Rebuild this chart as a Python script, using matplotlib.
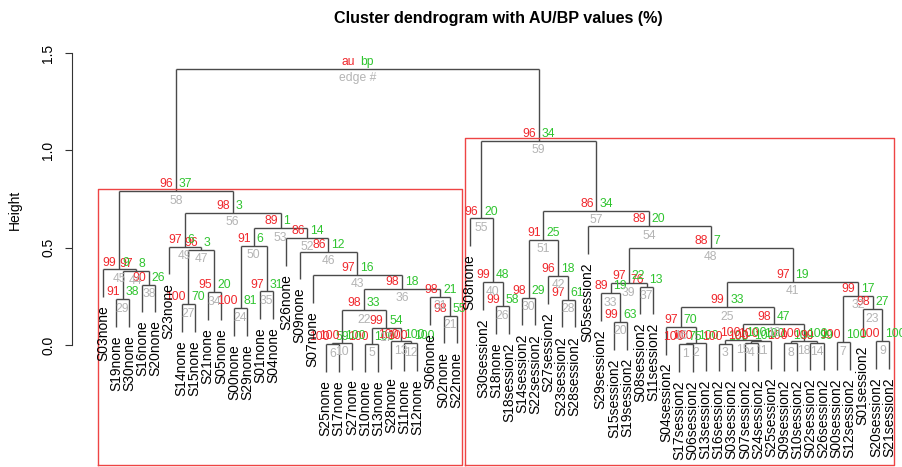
import matplotlib
matplotlib.use("Agg")
import matplotlib.pyplot as plt

plt.rcParams['font.family'] = ['Liberation Sans', 'DejaVu Sans']

# ---------------- data ----------------
leaf_labels = [
    "S03none", "S19none", "S30none", "S16none", "S20none", "S23none", "S14none", "S15none",
    "S21none", "S05none", "S00none", "S29none", "S01none", "S04none", "S26none", "S09none",
    "S07none", "S25none", "S17none", "S27none", "S10none", "S13none", "S28none", "S11none",
    "S12none", "S06none", "S02none", "S22none", "S08none", "S30session2", "S18none",
    "S18session2", "S14session2", "S22session2", "S27session2", "S23session2", "S28session2",
    "S05session2", "S29session2", "S15session2", "S19session2", "S08session2", "S11session2",
    "S04session2", "S17session2", "S06session2", "S13session2", "S16session2", "S03session2",
    "S07session2", "S24session2", "S25session2", "S09session2", "S10session2", "S02session2",
    "S26session2", "S00session2", "S12session2", "S01session2", "S20session2", "S21session2",
]

# merges in edge order (edge # = position + 1); a child is a leaf name or an earlier edge #
merge_a = ["S17session2", 1, "S16session2", "S07session2", "S10none", "S25none",
           "S00session2", "S09session2", "S20session2", 6, 4, "S11none", "S28none",
           "S02session2", 3, "S04session2", 5, 8, 15, "S15session2", "S02none", 10,
           "S01session2", "S00none", 16, "S18none", "S14none", "S23session2", "S19none",
           "S14session2", "S06none", 7, "S29session2", "S21none", "S01none", 22,
           "S08session2", "S16none", 33, "S30session2", 25, "S27session2", "S07none", 29,
           "S03none", "S09none", 27, 39, "S23none", 24, 30, "S26none", 50, "S05session2",
           "S08none", 49, 51, 45, 55, 58]
merge_b = ["S06session2", "S13session2", "S03session2", "S24session2", "S13none", "S17none",
           "S12session2", "S10session2", "S21session2", "S27none", "S25session2", "S12none", 12,
           "S26session2", 11, 2, 13, 14, 18, "S19session2", "S22none", 17,
           9, "S29none", 19, "S18session2", "S15none", "S28session2", "S30none",
           "S22session2", 21, 23, 20, "S05none", "S04none", 31,
           "S11session2", "S20none", 37, 26, 32, 28, 36, 38,
           44, 43, 34, 41, 47, 35, 42, 46, 52, 48,
           40, 53, 54, 56, 57, 59]
heights = [0.003, 0.008, 0.006, 0.010, 0.005, 0.004, 0.015, 0.010, 0.020, 0.012,
           0.020, 0.008, 0.018, 0.012, 0.025, 0.093, 0.087, 0.020, 0.108, 0.118,
           0.150, 0.178, 0.183, 0.188, 0.193, 0.198, 0.210, 0.232, 0.236, 0.243,
           0.247, 0.252, 0.265, 0.270, 0.275, 0.290, 0.300, 0.310, 0.318, 0.322,
           0.326, 0.355, 0.360, 0.378, 0.388, 0.480, 0.490, 0.500, 0.505, 0.510,
           0.540, 0.550, 0.600, 0.610, 0.650, 0.680, 0.690, 0.790, 1.050, 1.420]
au_values = [100, 100, 100, 100, 100, 100, 100, 100, 100, 100,
             100, 100, 100, 99, 100, 97, 99, 100, 98, 99,
             98, 98, 98, 100, 99, 99, 100, 97, 91, 98,
             98, 99, 89, 95, 97, 98, 76, 90, 97, 99,
             97, 96, 97, 97, 99, 86, 96, 88, 97, 91,
             91, 86, 89, 89, 96, 98, 86, 96, 96, 100]
bp_values = [75, 100, 100, 100, 100, 59, 100, 100, 100, 100,
             100, 100, 100, 99, 100, 70, 54, 100, 47, 63,
             55, 33, 27, 81, 33, 58, 70, 61, 38, 29,
             21, 17, 19, 20, 31, 18, 13, 26, 22, 48,
             19, 18, 16, 8, 9, 12, 3, 7, 6, 6,
             25, 14, 1, 20, 20, 3, 34, 37, 34, 100]

title = "Cluster dendrogram with AU/BP values (%)"
ytick_values = [0.0, 0.5, 1.0, 1.5]
ytick_labels = ["0.0", "0.5", "1.0", "1.5"]

# ---------------- layout ----------------
W, H = 903, 467
fig = plt.figure(figsize=(W / 100, H / 100), dpi=100)
ax_l, ax_r, ax_t = 72, 900, 30
ax = fig.add_axes([ax_l / W, 0, (ax_r - ax_l) / W, (H - ax_t) / H])
n = len(leaf_labels)
px_per_x = (889 - 103) / (n - 1)
xmin = 1 - (103 - ax_l) / px_per_x
xmax = xmin + (ax_r - ax_l) / px_per_x
px_per_y = 194.7
ymin = -(H - 345) / px_per_y
ymax = ymin + (H - ax_t) / px_per_y
ax.set_xlim(xmin, xmax)
ax.set_ylim(ymin, ymax)

LINE = "#4a4a4a"
RED = "#f0282d"
GREEN = "#2fc42f"
GRAY = "#b4b4b4"
PV_FS = 8.7

leaf_pos = {name: i + 1 for i, name in enumerate(leaf_labels)}
hang = 0.1 * max(heights)

node_x = {}
def child_info(c):
    if isinstance(c, str):
        return leaf_pos[c], None
    return node_x[c], heights[c - 1]

for k in range(len(heights)):
    e = k + 1
    h = heights[k]
    xa, ha_ = child_info(merge_a[k])
    xb, hb_ = child_info(merge_b[k])
    for xc, hc, c in ((xa, ha_, merge_a[k]), (xb, hb_, merge_b[k])):
        bottom = hc if hc is not None else h - hang
        ax.plot([xc, xc], [h, bottom], color=LINE, lw=1.0, solid_capstyle='butt')
        if hc is None:
            ax.annotate(c, (xc, h - hang), xytext=(0, -6), textcoords='offset points',
                        rotation=90, ha='center', va='top', fontsize=10, color='black')
    ax.plot([xa, xb], [h, h], color=LINE, lw=1.0, solid_capstyle='butt')
    xm = (xa + xb) / 2
    node_x[e] = xm
    last = (e == len(heights))
    au_t = "au" if last else str(au_values[k])
    bp_t = "bp" if last else str(bp_values[k])
    ed_t = "edge #" if last else str(e)
    ax.annotate(au_t, (xm, h), xytext=(-2, 5), textcoords='offset points',
                ha='right', va='center', fontsize=PV_FS, color=RED)
    ax.annotate(bp_t, (xm, h), xytext=(2, 5), textcoords='offset points',
                ha='left', va='center', fontsize=PV_FS, color=GREEN)
    ax.annotate(ed_t, (xm, h), xytext=(0, -2.5), textcoords='offset points',
                ha='center', va='top', fontsize=PV_FS, color=GRAY)

# pvrect-style rectangles around the two highest significant clusters (edges 58 and 59)
def members(e):
    out = []
    for c in (merge_a[e - 1], merge_b[e - 1]):
        if isinstance(c, str):
            out.append(leaf_pos[c])
        else:
            out.extend(members(c))
    return out

mx = (xmax - xmin) / n / 2.7
my = (ymax - ymin) / 200
for e in (58, 59):
    m = members(e)
    xl, xr = min(m) - mx, max(m) + mx
    yt = heights[e - 1] + my
    yb = ymin + my
    ax.plot([xl, xr, xr, xl, xl], [yb, yb, yt, yt, yb], color="#ee4444", lw=1.0)

# axes styling
for s in ("top", "right", "bottom"):
    ax.spines[s].set_visible(False)
ax.spines["left"].set_bounds(0, 1.5)
ax.spines["left"].set_color("#333333")
ax.set_xticks([])
ax.set_yticks(ytick_values)
ax.set_yticklabels(ytick_labels, rotation=90, va='center', fontsize=10)
ax.tick_params(axis='y', length=5, pad=7, color="#333333")
ax.patch.set_alpha(0)

fig.text(15 / W, 1 - 210 / H, "Height", rotation=90, ha='center', va='center', fontsize=10)
fig.text(498 / W, 1 - 18 / H, title, ha='center', va='center', fontsize=11.6, fontweight='bold')

fig.savefig("out.png", dpi=100)
